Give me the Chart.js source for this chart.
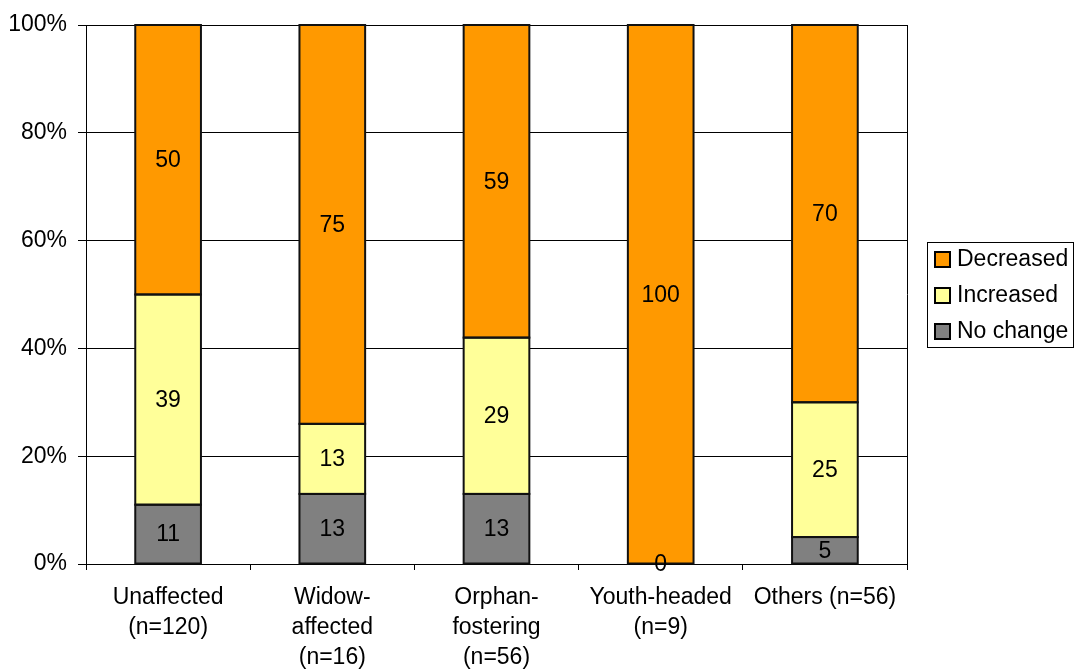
<!DOCTYPE html>
<html>
<head>
<meta charset="utf-8">
<title>Change by household type</title>
<script src="https://cdn.jsdelivr.net/npm/chart.js@4"></script>
<style>
    html, body { margin: 0; padding: 0; background: #fff; }
    #wrap { width: 1074px; height: 669px; }
</style>
</head>
<body>
<div id="wrap"><canvas id="chart" width="1074" height="669"></canvas></div>
<script>
// --- Data ---
const categories = [
    ["Unaffected", "(n=120)"],
    ["Widow-", "affected", "(n=16)"],
    ["Orphan-", "fostering", "(n=56)"],
    ["Youth-headed", "(n=9)"],
    ["Others (n=56)"]
];
const noChange = [11, 13, 13, 0, 5];
const increased = [39, 13, 29, 0, 25];
const decreased = [50, 75, 59, 100, 70];
const yTicks = [0, 20, 40, 60, 80, 100];

const FONT = '"Liberation Sans", Arial, sans-serif';
const FONT_SIZE = 23;
Chart.defaults.font.family = FONT;
Chart.defaults.font.size = FONT_SIZE;
Chart.defaults.color = "#000";

// Black outline round every segment (kept inside the plot area),
// then the number in the middle of the segment
const segmentLabels = {
    id: "segmentLabels",
    afterDatasetsDraw(chart) {
        const ctx = chart.ctx;
        const area = chart.chartArea;
        ctx.save();
        ctx.strokeStyle = "#111";
        ctx.lineWidth = 2;
        chart.data.datasets.forEach((ds, di) => {
            chart.getDatasetMeta(di).data.forEach((bar) => {
                const top = Math.max(bar.y, area.top);
                const h = bar.base - top;
                if (h <= 0) return;
                ctx.strokeRect(bar.x - bar.width / 2, top, bar.width, h);
            });
        });

        ctx.font = FONT_SIZE + "px " + FONT;
        ctx.fillStyle = "#000";
        ctx.textAlign = "center";
        ctx.textBaseline = "middle";
        chart.data.datasets.forEach((ds, di) => {
            chart.getDatasetMeta(di).data.forEach((bar, i) => {
                const v = ds.data[i];
                if (v === 0 && di !== 0) return; // one "0" is enough
                const y = (Math.max(bar.y, area.top) + bar.base) / 2;
                ctx.fillText(String(v), bar.x, y + 1);
            });
        });
        ctx.restore();
    }
};

// Right edge of the plot frame + boxed legend on the right
const frameAndLegend = {
    id: "frameAndLegend",
    afterDraw(chart) {
        const ctx = chart.ctx;
        const a = chart.chartArea;
        ctx.save();
        ctx.strokeStyle = "#000";
        ctx.lineWidth = 1;
        ctx.beginPath();
        ctx.moveTo(Math.round(a.right) + 0.5, a.top);
        ctx.lineTo(Math.round(a.right) + 0.5, a.bottom);
        ctx.stroke();

        // legend box
        ctx.strokeRect(927.5, 242.5, 146, 105);

        const order = chart.data.datasets.slice().reverse();
        ctx.font = FONT_SIZE + "px " + FONT;
        ctx.textAlign = "left";
        ctx.textBaseline = "middle";
        order.forEach((ds, i) => {
            const cy = 259 + i * 36;
            ctx.fillStyle = ds.backgroundColor;
            ctx.fillRect(935, cy - 7, 15, 15);
            ctx.lineWidth = 2;
            ctx.strokeStyle = "#000";
            ctx.strokeRect(935, cy - 7, 15, 15);
            ctx.fillStyle = "#000";
            ctx.fillText(ds.label, 957, cy + 1);
        });
        ctx.restore();
    }
};

const barStyle = {
    borderWidth: 0,
    barPercentage: 0.4,
    categoryPercentage: 1,
    clip: 0
};

new Chart(document.getElementById("chart"), {
    type: "bar",
    data: {
        labels: categories,
        datasets: [
            Object.assign({ label: "No change", data: noChange, backgroundColor: "#808080" }, barStyle),
            Object.assign({ label: "Increased", data: increased, backgroundColor: "#FFFF99" }, barStyle),
            Object.assign({ label: "Decreased", data: decreased, backgroundColor: "#FF9900" }, barStyle)
        ]
    },
    options: {
        responsive: false,
        animation: false,
        layout: { padding: { top: 25, right: 167, bottom: 0, left: 0 } },
        plugins: {
            legend: { display: false },
            tooltip: { enabled: false }
        },
        scales: {
            x: {
                stacked: true,
                afterFit: (s) => { s.height = 105; },
                grid: {
                    drawOnChartArea: false,
                    color: "#000",
                    tickLength: 6,
                    offset: true
                },
                border: { color: "#000", width: 1 },
                ticks: {
                    padding: 13,
                    maxRotation: 0,
                    autoSkip: false,
                    font: { size: FONT_SIZE, lineHeight: 1.3 }
                }
            },
            y: {
                stacked: true,
                min: 0,
                max: 100,
                afterFit: (s) => { s.width = 86; },
                afterBuildTicks: (s) => { s.ticks = yTicks.map(v => ({ value: v })); },
                grid: { color: "#000", tickLength: 8 },
                border: { color: "#000", width: 1 },
                ticks: {
                    padding: 11,
                    callback: (v) => v + "%"
                }
            }
        }
    },
    plugins: [segmentLabels, frameAndLegend]
});
</script>
</body>
</html>
